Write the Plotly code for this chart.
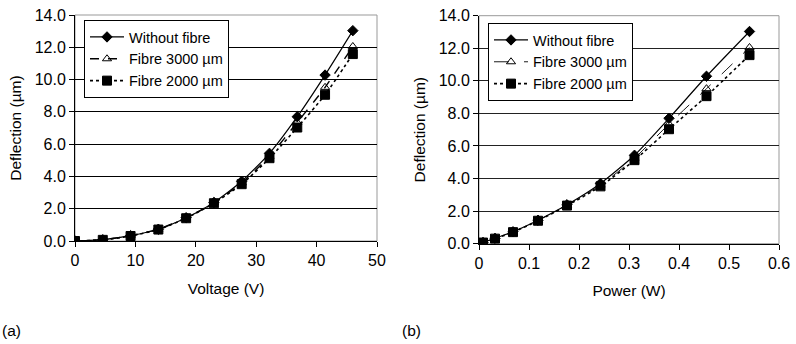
import plotly.graph_objects as go

voltage = [0, 4.6, 9.2, 13.8, 18.4, 23.0, 27.6, 32.2, 36.8, 41.4, 46.0]
power = [0, 0.008, 0.032, 0.068, 0.118, 0.176, 0.243, 0.311, 0.38, 0.455, 0.541]
without_fibre = [0, 0.08, 0.33, 0.73, 1.44, 2.39, 3.70, 5.43, 7.70, 10.28, 13.03]
fibre_3000 = [0, 0.08, 0.33, 0.73, 1.43, 2.37, 3.60, 5.25, 7.35, 9.52, 12.05]
fibre_2000 = [0, 0.07, 0.31, 0.71, 1.41, 2.34, 3.52, 5.13, 7.03, 9.06, 11.58]
series_names = ["Without fibre", "Fibre 3000 \u00b5m", "Fibre 2000 \u00b5m"]
y_ticks = [0, 2, 4, 6, 8, 10, 12, 14]

FONT = "Liberation Sans, Arial, sans-serif"
TICK_SIZE = 16
TITLE_SIZE = 15.5
LEG_SIZE = 14.5
fig = go.Figure()

styles_left = [
    dict(dash="solid", width=1.2, symbol="diamond", size=8),
    dict(dash="dash", width=1.4, symbol="triangle-up-open", size=8),
    dict(dash="dot", width=1.6, symbol="square", size=9),
]
styles_right = [
    dict(dash="solid", width=1.2, symbol="diamond", size=8),
    dict(dash="longdash", width=0.9, symbol="triangle-up-open", size=8),
    dict(dash="dot", width=1.6, symbol="square", size=9),
]
ys = [without_fibre, fibre_3000, fibre_2000]

for name, y, st in zip(series_names, ys, styles_left):
    fig.add_trace(go.Scatter(
        x=voltage, y=y, name=name, mode="lines+markers", xaxis="x", yaxis="y",
        line=dict(color="black", width=st["width"], dash=st["dash"], shape="spline", smoothing=0.6),
        marker=dict(symbol=st["symbol"], size=st["size"], color="black", line=dict(color="black", width=1)),
        legend="legend"))
for name, y, st in zip(series_names, ys, styles_right):
    fig.add_trace(go.Scatter(
        x=power, y=y, name=name, mode="lines+markers", xaxis="x2", yaxis="y2",
        line=dict(color="black", width=st["width"], dash=st["dash"], shape="spline", smoothing=0.6),
        marker=dict(symbol=st["symbol"], size=st["size"], color="black", line=dict(color="black", width=1)),
        legend="legend2"))

axis_common = dict(
    showline=True, linecolor="black", linewidth=1, ticks="outside", ticklen=5,
    tickcolor="black", tickfont=dict(size=TICK_SIZE, color="black", family=FONT),
    zeroline=False, title_font=dict(size=TITLE_SIZE, color="black", family=FONT),
    automargin=False,
)

W, H = 796, 344
def fx(a, b):
    return [a / W, b / W]
def fy(top, bottom):
    return [(H - bottom) / H, (H - top) / H]

leg_common = dict(xref="paper", yref="paper", xanchor="left", yanchor="top",
                  bgcolor="white", bordercolor="black", borderwidth=1,
                  font=dict(size=LEG_SIZE, family=FONT, color="black"), itemwidth=34)

fig.update_layout(
    width=W, height=H, margin=dict(l=0, r=0, t=0, b=0, autoexpand=False),
    paper_bgcolor="white", plot_bgcolor="white",
    font=dict(family=FONT, color="black"),
    xaxis=dict(domain=fx(75, 377), range=[0, 50], dtick=10, anchor="y",
               showgrid=False, title=dict(text="Voltage (V)", standoff=14), **axis_common),
    yaxis=dict(domain=fy(15, 241), range=[0, 14], tickvals=y_ticks, tickformat=".1f", anchor="x",
               showgrid=True, gridcolor="black", gridwidth=1,
               title=dict(text="Deflection (\u00b5m)", standoff=9), **axis_common),
    xaxis2=dict(domain=fx(479, 779), range=[0, 0.6], dtick=0.1, anchor="y2",
                showgrid=False, title=dict(text="Power (W)", standoff=14), **axis_common),
    yaxis2=dict(domain=fy(15.7, 243.7), range=[0, 14], tickvals=y_ticks, tickformat=".1f", anchor="x2",
                showgrid=True, gridcolor="#222", gridwidth=1,
                title=dict(text="Deflection (\u00b5m)", standoff=9), **axis_common),
    legend=dict(x=84 / W, y=(H - 20) / H, **leg_common),
    legend2=dict(x=488 / W, y=(H - 23) / H, **leg_common),
    showlegend=True,
)

# gray plot-area borders (top / right)
for xr, yr in [("x domain", "y domain"), ("x2 domain", "y2 domain")]:
    fig.add_shape(type="rect", xref=xr, yref=yr, x0=0, x1=1, y0=0, y1=1,
                  line=dict(color="#999999", width=1), layer="below")

for label, px in [("(a)", 0), ("(b)", 400)]:
    fig.add_annotation(text=label, x=px / W, y=(H - 330) / H, xref="paper", yref="paper",
                       xanchor="left", yanchor="middle", showarrow=False,
                       font=dict(size=15.5, family=FONT, color="black"))

fig.write_html("out.html", config={"displayModeBar": False},
               post_script=["document.body.style.margin='0';document.body.style.overflow='hidden';"])
